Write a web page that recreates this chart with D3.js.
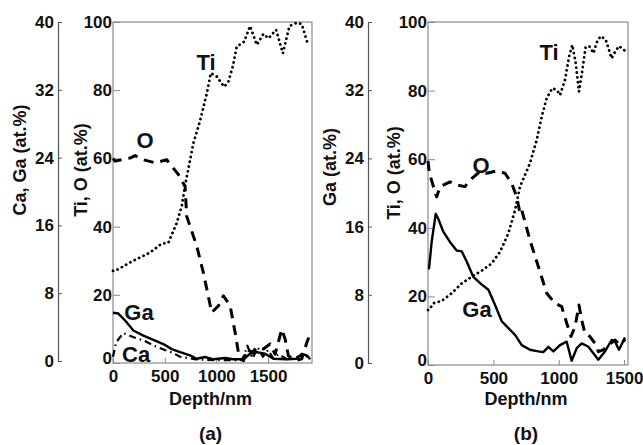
<!DOCTYPE html>
<html>
<head>
<meta charset="utf-8">
<script src="https://cdn.jsdelivr.net/npm/d3@7"></script>
<style>
  body { margin: 0; background: #fff; }
  text { font-family: "Liberation Sans", Arial, sans-serif; font-weight: bold; fill: #111; }
</style>
</head>
<body>
<div id="chart"></div>
<script>
// depth (nm), at.%
var tiA = [[0,27],[20,27],[197,30],[358,32.4],[471,35],[536,35.3],[616,41],[665,46],[697,52],[778,64.5],[842,71],[907,79],[946,85],[1004,84],[1075,81],[1116,82.5],[1159,87],[1197,92.8],[1268,94.2],[1326,98.8],[1391,93.3],[1455,96.5],[1504,95.2],[1578,97.7],[1643,90.8],[1707,98.8],[1778,99.8],[1826,99.4],[1881,93.8]];
var oA = [[0,60],[20,59.2],[165,60.1],[213,60.8],[294,59.6],[407,58.7],[520,59.6],[568,57.7],[632,55.3],[697,51.8],[713,43],[810,34.3],[874,26.5],[955,14.8],[1020,16.8],[1068,19.7],[1133,16.8],[1181,9],[1213,3.1],[1262,0.7],[1294,4.1],[1343,3.1],[1391,4.6],[1455,4.1],[1520,5.6],[1568,2.6],[1633,9.9],[1665,7],[1697,2.1],[1762,0.7],[1826,1.2],[1875,6],[1900,8]];
var gaA = [[0,5.7],[52,5.6],[116,4.8],[197,3.6],[294,3.0],[391,2.5],[487,2.0],[568,1.4],[649,1.05],[745,0.67],[810,0.27],[890,0.47],[971,0.2],[1084,0.35],[1165,0.2],[1262,0.2],[1326,0.85],[1391,1.05],[1471,0.85],[1552,0.27],[1681,0.2],[1778,0.27],[1826,0.85],[1875,0.67],[1907,0.2]];
var caA = [[0,0.5],[30,2.2],[100,3.3],[200,2.8],[300,2.4],[400,1.8],[500,1.3],[570,1.0],[650,0.5],[800,0.2],[1000,0.1],[1250,0.1],[1300,1.8],[1350,0.3],[1400,1.6],[1450,0.5],[1500,1.3],[1550,0.3],[1600,0.8],[1700,0.1],[1850,0.8],[1900,0.2]];

var tiB = [[0,16],[8,16],[41,18],[105,18.7],[181,20.9],[258,23.8],[334,25.7],[411,27.5],[487,29.6],[551,33],[615,38.4],[666,45.2],[704,52],[780,58.8],[832,65.6],[870,72.4],[908,77.8],[951,80.7],[985,80.2],[1010,78.7],[1048,83.1],[1079,89.9],[1104,93.3],[1130,88],[1155,79.7],[1181,86],[1206,92.8],[1239,92.8],[1265,90.9],[1298,94.8],[1324,95.9],[1360,94.8],[1405,89.4],[1425,90.9],[1461,93],[1507,91.6]];
var oB = [[0,59.5],[10,56],[66,49],[92,52],[168,53.4],[219,52.5],[283,52],[321,53.9],[398,56.4],[449,55.9],[526,56.6],[589,55.9],[640,53],[679,49],[704,44.2],[717,45.2],[780,36.4],[844,28.7],[908,20.9],[972,18],[1023,17],[1061,12.2],[1094,8.3],[1125,11.2],[1155,17.5],[1176,13.1],[1201,9.2],[1239,8.3],[1278,6.3],[1303,3.9],[1341,4.4],[1380,5.8],[1431,7.3],[1469,5.8],[1507,7.5]];
var gaB = [[0,11.1],[8,11.1],[28,14.2],[59,17.5],[79,16.9],[117,15.4],[168,14.2],[219,13.2],[258,13.1],[296,11.9],[347,10.1],[411,9.2],[462,8.6],[513,6.8],[564,4.9],[615,4.1],[666,3.3],[717,2.1],[780,1.55],[844,1.36],[882,1.28],[921,1.9],[959,1.36],[1010,2.1],[1061,2.5],[1099,0.27],[1138,1.75],[1176,2.3],[1227,1.9],[1303,0.39],[1354,1.36],[1405,2.7],[1431,2.5],[1461,1.55],[1507,3.0]];

var depthTicks = [0, 500, 1000, 1500];
var tiOTicks = [0, 20, 40, 60, 80, 100];
var gaTicks = [0, 8, 16, 24, 32, 40];

var svg = d3.select("#chart").append("svg")
    .attr("width", 643)
    .attr("height", 445);

svg.append("rect").attr("width", 643).attr("height", 445).attr("fill", "#fff");

var dotted = {dash: "0.1,4.8", width: 2.8, cap: "round"};
var dashed = {dash: "10,7", width: 3, cap: "butt"};
var solid = {dash: null, width: 2.4, cap: "butt"};
var dashDot = {dash: "7,4,1.5,4", width: 2.2, cap: "butt"};

drawPanel({
    outerX: 58, left: 113, right: 312, top: 22, bottom: 363, xMax: 1925,
    leftTitle: "Ca, Ga (at.%)", leftTitleX: 26, leftTitleY: 160,
    innerTitleX: 87, innerTitleY: 170,
    tag: "(a)",
    series: [
        {data: tiA, axis: "inner", style: dotted},
        {data: oA, axis: "inner", style: dashed},
        {data: gaA, axis: "outer", style: solid},
        {data: caA, axis: "outer", style: dashDot}
    ],
    labels: [
        {t: "Ti", x: 206, y: 70, a: "middle"},
        {t: "O", x: 145, y: 148, a: "middle"},
        {t: "Ga", x: 139, y: 320, a: "middle"},
        {t: "Ca", x: 122, y: 362, a: "start"}
    ]
});

drawPanel({
    outerX: 368, left: 428, right: 628, top: 22, bottom: 365, xMax: 1530,
    leftTitle: "Ga (at.%)", leftTitleX: 336, leftTitleY: 167,
    innerTitleX: 400, innerTitleY: 173,
    tag: "(b)",
    series: [
        {data: tiB, axis: "inner", style: dotted},
        {data: oB, axis: "inner", style: dashed},
        {data: gaB, axis: "outer", style: solid}
    ],
    labels: [
        {t: "Ti", x: 549, y: 60, a: "middle"},
        {t: "O", x: 481, y: 173, a: "middle"},
        {t: "Ga", x: 477, y: 317, a: "middle"}
    ]
});

function drawPanel(p) {
    var g = svg.append("g");

    var x = d3.scaleLinear().domain([0, p.xMax]).range([p.left, p.right]);
    var yIn = d3.scaleLinear().domain([0, 100]).range([p.bottom, p.top]);
    var yOut = d3.scaleLinear().domain([0, 40]).range([p.bottom - 2, p.top]);

    // outer Ga axis
    var outer = g.append("g")
        .attr("transform", "translate(" + p.outerX + ",0)")
        .call(d3.axisLeft(yOut).tickValues(gaTicks).tickSizeInner(-4).tickSizeOuter(0).tickPadding(4));
    outer.select(".domain").attr("stroke", "#555").attr("stroke-width", 1.2);
    outer.selectAll(".tick line").attr("stroke", "#555");
    outer.selectAll("text").style("font-size", "17px").attr("fill", "#111");

    // frame
    g.append("rect")
        .attr("x", p.left).attr("y", p.top)
        .attr("width", p.right - p.left).attr("height", p.bottom - p.top)
        .attr("fill", "none").attr("stroke", "#8a8a8a").attr("stroke-width", 1.2);

    var inner = g.append("g")
        .attr("transform", "translate(" + p.left + ",0)")
        .call(d3.axisLeft(yIn).tickValues(tiOTicks).tickSizeInner(-7).tickSizeOuter(0).tickPadding(1));
    inner.select(".domain").remove();
    inner.selectAll(".tick line").attr("stroke", "#8a8a8a");
    inner.selectAll("text").style("font-size", "17px").attr("fill", "#111");
    // the zero sits a little higher so it clears the depth "0"
    inner.selectAll(".tick text").filter(function(d) { return d == 0; }).attr("y", -5);

    var bottom = g.append("g")
        .attr("transform", "translate(0," + p.bottom + ")")
        .call(d3.axisBottom(x).tickValues(depthTicks).tickFormat(d3.format("d"))
            .tickSizeInner(-5).tickSizeOuter(0).tickPadding(7));
    bottom.select(".domain").remove();
    bottom.selectAll(".tick line").attr("stroke", "#8a8a8a");
    bottom.selectAll("text").style("font-size", "17px").attr("fill", "#111");

    // curves
    p.series.forEach(function(s) {
        var yS = s.axis == "inner" ? yIn : yOut;
        var line = d3.line()
            .x(function(d) { return x(d[0]); })
            .y(function(d) { return yS(d[1]); });
        g.append("path")
            .datum(s.data)
            .attr("d", line)
            .attr("fill", "none")
            .attr("stroke", "#000")
            .attr("stroke-width", s.style.width)
            .attr("stroke-linecap", s.style.cap)
            .attr("stroke-linejoin", "round")
            .attr("stroke-dasharray", s.style.dash);
    });

    p.labels.forEach(function(l) {
        g.append("text")
            .attr("x", l.x).attr("y", l.y)
            .style("text-anchor", l.a)
            .style("font-size", "22px")
            .text(l.t);
    });

    // titles
    g.append("text")
        .attr("transform", "translate(" + p.leftTitleX + "," + p.leftTitleY + ") rotate(-90)")
        .style("text-anchor", "middle")
        .style("font-size", "18px")
        .text(p.leftTitle);

    g.append("text")
        .attr("transform", "translate(" + p.innerTitleX + "," + p.innerTitleY + ") rotate(-90)")
        .style("text-anchor", "middle")
        .style("font-size", "18px")
        .text("Ti, O (at.%)");

    var mid = (p.left + p.right) / 2;
    g.append("text")
        .attr("x", mid - 2).attr("y", 405)
        .style("text-anchor", "middle")
        .style("font-size", "18px")
        .text("Depth/nm");

    g.append("text")
        .attr("x", mid - 2).attr("y", 440)
        .style("text-anchor", "middle")
        .style("font-size", "19px")
        .text(p.tag);
}
</script>
</body>
</html>
